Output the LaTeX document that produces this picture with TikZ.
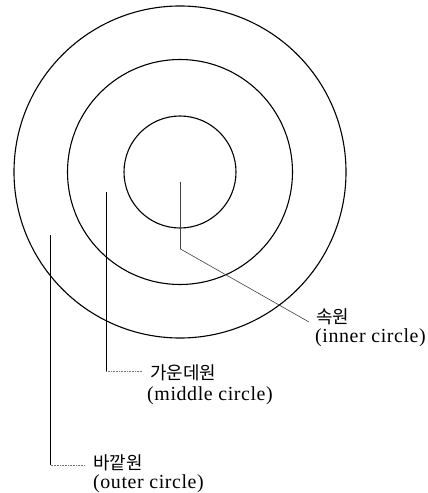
\documentclass[tikz,border=0pt]{standalone}
\usepackage{fontspec}
\setmainfont{Liberation Serif}[LetterSpace=3]
\newfontfamily\kofont{Noto Sans CJK KR}
\usetikzlibrary{calc}
\tikzset{
  ring/.style={circle,draw,line width=1.1bp,inner sep=0pt},
  kolabel/.style={anchor=west,inner sep=0pt,font=\kofont\fontsize{18}{20}\selectfont},
  enlabel/.style={anchor=west,inner sep=0pt,font=\fontsize{20}{22}\selectfont},
  leader/.style={line width=0.6bp,black!75},
  tick/.style={line width=0.6bp,black!55,densely dotted}
}
\begin{document}
\begin{tikzpicture}[x=1bp,y=-1bp]
\useasboundingbox (0,0) rectangle (427,493);
\coordinate (c) at (180,172);
\node[ring,minimum size=332bp] (outer) at (c) {};
\node[ring,minimum size=225bp] (middle) at (c) {};
\node[ring,minimum size=112bp] (inner) at (c) {};
% labels
\node[kolabel] (inK) at (316,316.5) {속원};
\node[enlabel] (inE) at (315,337.5) {(inner circle)};
\node[kolabel] (midK) at (150,373) {가운데원};
\node[enlabel] (midE) at (147,396) {(middle circle)};
\node[kolabel] (outK) at (93,462.5) {바깥원};
\node[enlabel] (outE) at (93,484) {(outer circle)};
% leader points
\coordinate (inA) at (180.5,182);
\coordinate (inB) at (180.5,249);
\coordinate (inC) at ($(inK.west)+(-7,5.5)$);
\coordinate (midA) at (106.3,192);
\coordinate (midB) at (106.3,371);
\coordinate (midC) at ($(midK.west)+(-7,-2)$);
\coordinate (outA) at (50.5,235);
\coordinate (outB) at (50.5,465);
\coordinate (outC) at ($(outK.west)+(-8,2.5)$);
\draw[leader] (inA) -- (inB) -- (inC);
\draw[line width=1.2bp] (midA) -- (midB);
\draw[tick] (midB) -- (midC |- midB);
\draw[line width=0.7bp] (outA) -- (outB);
\draw[tick] (outB) -- (outC |- outB);
\end{tikzpicture}
\end{document}
